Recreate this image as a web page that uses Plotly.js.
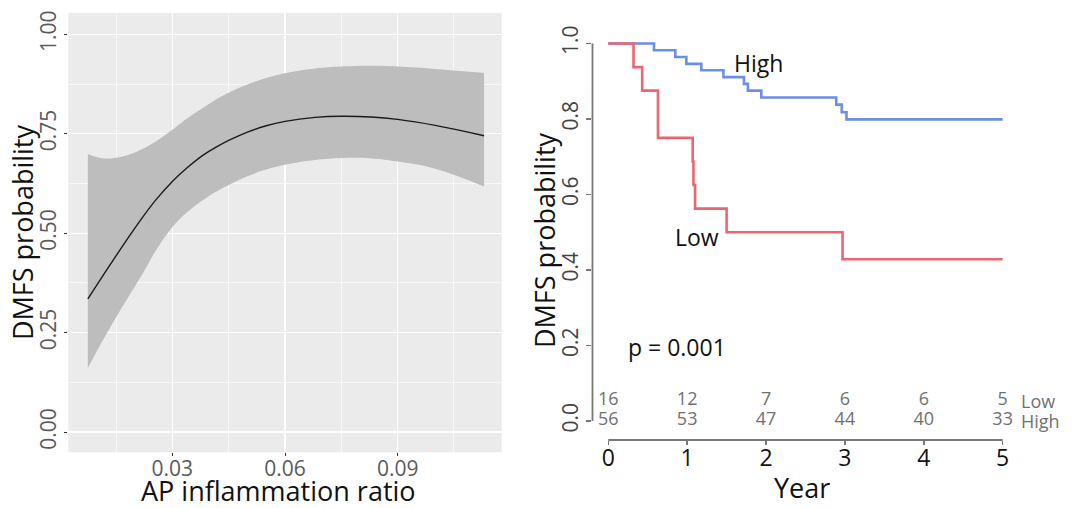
<!DOCTYPE html>
<html>
<head>
<meta charset="utf-8">
<script src="https://cdn.plot.ly/plotly-3.0.1.min.js"></script>
<style>html,body{margin:0;padding:0;background:#fff;}#chart{width:1081px;height:508px;}</style>
</head>
<body>
<div id="chart"></div>
<script>
// ---- Left panel: smoothed DMFS probability vs AP inflammation ratio ----
const ratioX   = [0.0075, 0.010, 0.0134, 0.018, 0.0223, 0.026, 0.030, 0.034, 0.0383, 0.042, 0.045, 0.050, 0.055, 0.060, 0.068, 0.075, 0.083, 0.090, 0.100, 0.113];
const fitY     = [0.335, 0.371, 0.420, 0.485, 0.543, 0.588, 0.630, 0.665, 0.697, 0.718, 0.733, 0.754, 0.770, 0.781, 0.791, 0.794, 0.792, 0.786, 0.771, 0.745];
const upperY   = [0.699, 0.691, 0.688, 0.696, 0.713, 0.733, 0.760, 0.789, 0.816, 0.838, 0.853, 0.874, 0.890, 0.902, 0.914, 0.919, 0.921, 0.919, 0.913, 0.903];
const lowerY   = [0.161, 0.205, 0.262, 0.335, 0.402, 0.462, 0.515, 0.553, 0.584, 0.606, 0.621, 0.643, 0.660, 0.672, 0.684, 0.689, 0.688, 0.680, 0.662, 0.617];

// ---- Right panel: Kaplan-Meier curves ----
const highTime = [0, 0.58, 0.85, 0.99, 1.18, 1.46, 1.72, 1.77, 1.94, 2.89, 2.96, 3.02, 5.0];
const highSurv = [1.0, 0.982, 0.964, 0.946, 0.929, 0.911, 0.893, 0.875, 0.857, 0.838, 0.818, 0.799, 0.799];
const lowTime  = [0, 0.32, 0.43, 0.63, 1.07, 1.08, 1.10, 1.50, 2.97, 5.0];
const lowSurv  = [1.0, 0.9375, 0.875, 0.75, 0.6875, 0.625, 0.5625, 0.5, 0.4286, 0.4286];

// numbers at risk
const riskYears = [0, 1, 2, 3, 4, 5];
const riskLow   = [16, 12, 7, 6, 6, 5];
const riskHigh  = [56, 53, 47, 44, 40, 33];
const riskRowY  = {Low: 0.053, High: 0.0};

const FONT = 'Open Sans, DejaVu Sans, sans-serif';

const traces = [
  {x: ratioX, y: lowerY, xaxis: 'x', yaxis: 'y', mode: 'lines', line: {width: 0, shape: 'spline', smoothing: 1.2}, hoverinfo: 'skip'},
  {x: ratioX, y: upperY, xaxis: 'x', yaxis: 'y', mode: 'lines', line: {width: 0, shape: 'spline', smoothing: 1.2}, fill: 'tonexty', fillcolor: '#bdbdbd', hoverinfo: 'skip'},
  {x: ratioX, y: fitY, xaxis: 'x', yaxis: 'y', mode: 'lines', line: {width: 1.4, color: '#1a1a1a', shape: 'spline', smoothing: 1.2}},
  {x: highTime, y: highSurv, xaxis: 'x2', yaxis: 'y2', mode: 'lines', line: {width: 2.6, color: '#6b8fe6', shape: 'hv'}},
  {x: lowTime, y: lowSurv, xaxis: 'x2', yaxis: 'y2', mode: 'lines', line: {width: 2.6, color: '#eb6670', shape: 'hv'}},
  {x: riskYears, y: riskYears.map(() => riskRowY.Low), text: riskLow.map(String), xaxis: 'x2', yaxis: 'y2', mode: 'text', textposition: 'middle center', textfont: {family: FONT, size: 18, color: '#707070'}, cliponaxis: false, hoverinfo: 'skip'},
  {x: riskYears, y: riskYears.map(() => riskRowY.High), text: riskHigh.map(String), xaxis: 'x2', yaxis: 'y2', mode: 'text', textposition: 'middle center', textfont: {family: FONT, size: 18, color: '#707070'}, cliponaxis: false, hoverinfo: 'skip'}
];

const layout = {
  width: 1081, height: 508,
  margin: {l: 0, r: 0, t: 0, b: 0},
  paper_bgcolor: '#ffffff', plot_bgcolor: 'rgba(0,0,0,0)',
  showlegend: false,
  font: {family: FONT},
  xaxis: {
    domain: [0.0632, 0.4641], range: [0.0023, 0.1177], anchor: 'y',
    tick0: 0, dtick: 0.03, tickformat: '.2f',
    showgrid: true, gridcolor: '#ffffff', gridwidth: 1.3, zeroline: false, showline: false,
    ticks: 'outside', ticklen: 3, tickcolor: '#333', tickwidth: 1, ticklabelstandoff: -6,
    tickfont: {family: FONT, size: 21, color: '#5a5a5a'},
    minor: {dtick: 0.015, tick0: 0, showgrid: true, gridcolor: '#ffffff', gridwidth: 0.6, ticks: ''}
  },
  yaxis: {
    domain: [0.1096, 0.9744], range: [-0.051, 1.0535], anchor: 'x',
    tick0: 0, dtick: 0.25, tickformat: '.2f', tickangle: -90,
    showgrid: true, gridcolor: '#ffffff', gridwidth: 1.3, zeroline: false, showline: false,
    ticks: 'outside', ticklen: 3, tickcolor: '#333', tickwidth: 1,
    tickfont: {family: FONT, size: 21, color: '#5a5a5a'},
    minor: {dtick: 0.125, tick0: 0, showgrid: true, gridcolor: '#ffffff', gridwidth: 0.6, ticks: ''}
  },
  xaxis2: {
    domain: [0.5481, 0.9290], range: [-0.2, 5.02], anchor: 'y2',
    tickvals: [0, 1, 2, 3, 4, 5],
    showgrid: false, zeroline: false, showline: false,
    ticks: 'outside', ticklen: 4, tickcolor: '#777', tickwidth: 1.5, ticklabelstandoff: -7,
    tickfont: {family: FONT, size: 23, color: '#111'}
  },
  yaxis2: {
    domain: [0.1339, 0.9219], range: [-0.0503, 1.0101], anchor: 'x2',
    tickvals: [0, 0.2, 0.4, 0.6, 0.8, 1.0], tickformat: '.1f', tickangle: -90,
    showgrid: false, zeroline: false, showline: false,
    ticks: 'outside', ticklen: 5, tickcolor: '#777', tickwidth: 1.5,
    tickfont: {family: FONT, size: 21, color: '#444'}
  },
  shapes: [
    {type: 'rect', xref: 'x domain', yref: 'y domain', x0: 0, x1: 1, y0: 0, y1: 1, fillcolor: '#ebebeb', line: {width: 0}, layer: 'below'},
    {type: 'line', xref: 'x2 domain', yref: 'y2', x0: 0, x1: 0, y0: 0, y1: 1, line: {color: '#777', width: 1.8}},
    {type: 'line', xref: 'x2', yref: 'y2 domain', x0: 0, x1: 5, y0: 0, y1: 0, line: {color: '#777', width: 1.8}}
  ],
  annotations: [
    {text: 'DMFS probability', xref: 'paper', yref: 'paper', x: 0.0204, y: 0.5433, xanchor: 'center', yanchor: 'middle', textangle: -90, showarrow: false, font: {family: FONT, size: 27, color: '#111'}},
    {text: 'AP inflammation ratio', xref: 'paper', yref: 'paper', x: 0.2576, y: 0.0335, xanchor: 'center', yanchor: 'middle', showarrow: false, font: {family: FONT, size: 27, color: '#111'}},
    {text: 'DMFS probability', xref: 'paper', yref: 'paper', x: 0.5042, y: 0.5276, xanchor: 'center', yanchor: 'middle', textangle: -90, showarrow: false, font: {family: FONT, size: 27, color: '#111'}},
    {text: 'Year', xref: 'paper', yref: 'paper', x: 0.7416, y: 0.0394, xanchor: 'center', yanchor: 'middle', showarrow: false, font: {family: FONT, size: 27, color: '#111'}},
    {text: 'High', xref: 'x2', yref: 'y2', x: 1.90, y: 0.948, xanchor: 'center', yanchor: 'middle', showarrow: false, font: {family: FONT, size: 23, color: '#111'}},
    {text: 'Low', xref: 'x2', yref: 'y2', x: 1.13, y: 0.488, xanchor: 'center', yanchor: 'middle', showarrow: false, font: {family: FONT, size: 23, color: '#111'}},
    {text: 'p = 0.001', xref: 'x2', yref: 'y2', x: 0.875, y: 0.197, xanchor: 'center', yanchor: 'middle', showarrow: false, font: {family: FONT, size: 23, color: '#111'}},
    {text: 'Low', xref: 'x2', yref: 'y2', x: 5, y: riskRowY.Low, xanchor: 'left', yanchor: 'middle', xshift: 16, showarrow: false, font: {family: FONT, size: 18, color: '#707070'}},
    {text: 'High', xref: 'x2', yref: 'y2', x: 5, y: riskRowY.High, xanchor: 'left', yanchor: 'middle', xshift: 16, showarrow: false, font: {family: FONT, size: 18, color: '#707070'}}
  ]
};

Plotly.newPlot('chart', traces, layout, {staticPlot: true, displayModeBar: false});
</script>
</body>
</html>
